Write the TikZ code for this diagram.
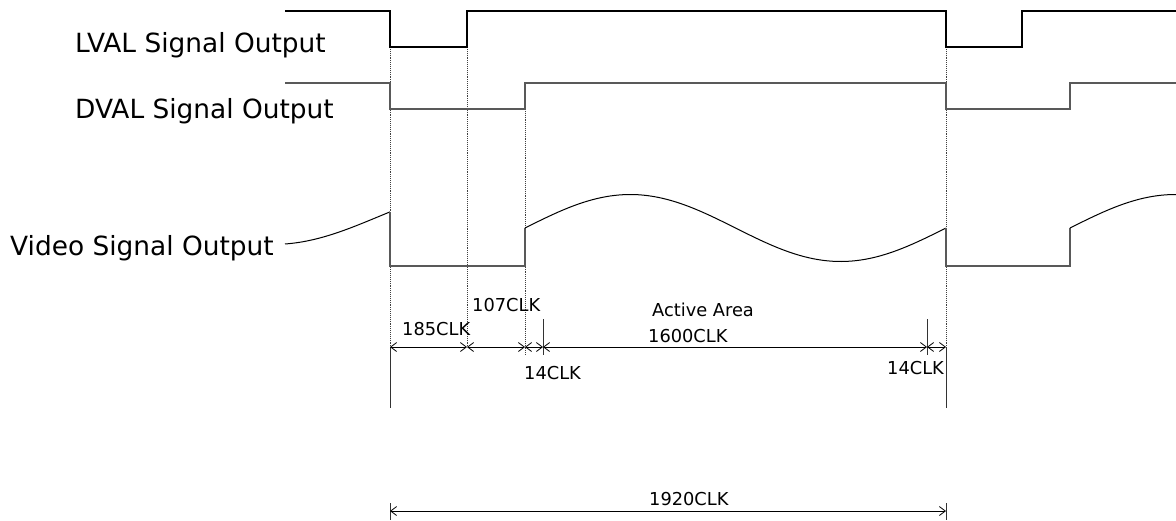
\documentclass[tikz,border=0pt]{standalone}
\usepackage{fontspec}
\setmainfont{DejaVu Sans}
\usetikzlibrary{arrows.meta}

\begin{document}
\begin{tikzpicture}
        [x=1pt, y=-1pt,
        signame/.style={anchor=base west, inner sep=0pt, font=\fontsize{26.4}{30}\selectfont},
        dimtext/.style={anchor=base west, inner sep=0pt, font=\fontsize{17.8}{20}\selectfont},
        lval/.style={black, line width=1.2pt},
        dval/.style={black!65, line width=1.4pt},
        wave/.style={black, line width=1pt},
        guide/.style={black!75, line width=0.9pt, densely dotted},
        extline/.style={black!80, line width=0.8pt},
        dim/.style={black, line width=0.8pt,
            {Straight Barb[length=6pt,width=9pt]}-{Straight Barb[length=6pt,width=9pt]}}]

        \useasboundingbox (0,0) rectangle (1176,520);

        % signal names
        \node[signame] (lvalname) at (75,52) {LVAL Signal Output};
        \node[signame] (dvalname) at (75,118) {DVAL Signal Output};
        \node[signame] (videoname) at (10,255) {Video Signal Output};

        % guide lines
        \draw[guide] (390,47) -- (390,347);
        \draw[guide] (946,47) -- (946,347);
        \draw[guide] (467,47) -- (467,347);
        \draw[guide] (525,109) -- (525,355);
        \draw[extline] (390,347) -- (390,408);
        \draw[extline] (946,347) -- (946,408);
        \draw[extline] (543,319) -- (543,355);
        \draw[extline] (927,319) -- (927,355);
        \draw[extline] (390,503) -- (390,520);
        \draw[extline] (946,503) -- (946,520);

        % LVAL
        \draw[lval] (285,11) -- (390,11) -- (390,47) -- (467,47) -- (467,11) -- (946,11)
            -- (946,47) -- (1022,47) -- (1022,11) -- (1176,11);

        % DVAL
        \draw[dval] (285,83) -- (390,83) -- (390,109) -- (525,109) -- (525,83) -- (946,83)
            -- (946,109) -- (1070,109) -- (1070,83) -- (1176,83);

        % video
        \draw[wave] plot[domain=0:1, samples=40] (285+105*\x, {216.7-27.7*sin(-80+90*\x)});
        \draw[dval, line width=1.2pt] (390,212) -- (390,266) -- (525,266) -- (525,228);
        \draw[wave] plot[domain=0:1, samples=90] (525+421*\x, {228-33.5*sin(360*\x)});
        \draw[dval, line width=1.2pt] (946,228) -- (946,266) -- (1070,266) -- (1070,228);
        \draw[wave] plot[domain=0:0.252, samples=30] (1070+421*\x, {228-33.5*sin(360*\x)});

        % dimension points
        \coordinate (m0) at (390,347);
        \coordinate (m1) at (467,347);
        \coordinate (m2) at (525,347);
        \coordinate (m3) at (543,347);
        \coordinate (m4) at (927,347);
        \coordinate (m5) at (946,347);
        \coordinate (n0) at (390,511);
        \coordinate (n1) at (946,511);

        \draw[dim] (m0) -- (m1);
        \draw[dim] (m1) -- (m2);
        \draw[dim] (m2) -- (m3);
        \draw[dim] (m3) -- (m4);
        \draw[dim] (m4) -- (m5);
        \draw[dim] (n0) -- (n1);

        % dimension labels
        \node[dimtext] (t185) at (402,335) {185CLK};
        \node[dimtext] (t107) at (472,311) {107CLK};
        \node[dimtext] (t14a) at (524,379) {14CLK};
        \node[dimtext] (tactive) at (652,316) {Active Area};
        \node[dimtext] (t1600) at (648,342) {1600CLK};
        \node[dimtext] (t14b) at (887,374) {14CLK};
        \node[dimtext] (t1920) at (649,505) {1920CLK};

\end{tikzpicture}
\end{document}
